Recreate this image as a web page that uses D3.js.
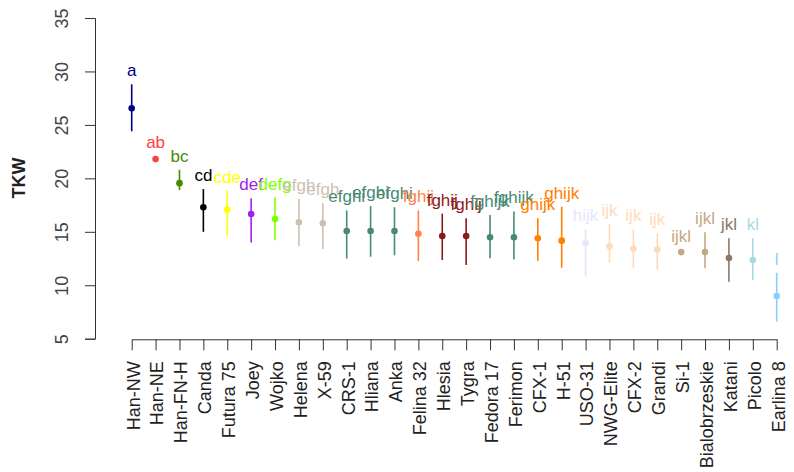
<!DOCTYPE html>
<html>
<head>
<meta charset="utf-8">
<script src="https://cdn.jsdelivr.net/npm/d3@7"></script>
<style>
  body { margin: 0; background: #fff; }
  text { font-family: "Liberation Sans", Arial, sans-serif; }
</style>
</head>
<body>
<svg width="794" height="472"></svg>
<script>
// cultivars, mean TKW with error bar limits and group letters
var cultivars = ["Han-NW", "Han-NE", "Han-FN-H", "Canda", "Futura 75", "Joey", "Wojko", "Helena",
  "X-59", "CRS-1", "Hliana", "Anka", "Felina 32", "Hlesia", "Tygra", "Fedora 17", "Ferimon",
  "CFX-1", "H-51", "USO-31", "NWG-Elite", "CFX-2", "Grandi", "Si-1", "Bialobrzeskie", "Katani",
  "Picolo", "Earlina 8"];
var means = [26.55, 21.8, 19.55, 17.3, 17.07, 16.67, 16.2, 15.9, 15.8, 15.07, 15.07, 15.07, 14.82,
  14.6, 14.6, 14.49, 14.49, 14.4, 14.17, 13.95, 13.64, 13.42, 13.33, 13.1, 13.1, 12.55, 12.36, 9.0];
var upper = [28.8, 22.05, 20.8, 19.0, 18.85, 18.13, 18.2, 18.1, 17.67, 17.0, 17.4, 17.3, 17.0,
  16.7, 16.26, 16.57, 16.9, 16.26, 17.35, 15.26, 15.73, 15.23, 14.86, 13.3, 14.95, 14.4, 14.39, 11.17];
var lower = [24.4, 21.55, 18.9, 15.0, 14.55, 14.0, 14.2, 13.67, 13.36, 12.5, 12.67, 12.8, 12.27,
  12.36, 11.9, 12.52, 12.4, 12.3, 11.64, 10.8, 12.11, 11.58, 11.43, 12.9, 11.58, 10.33, 10.49, 6.6];
var letters = ["a", "ab", "bc", "cd", "cde", "def", "defg", "efgh", "efgh", "efghi", "efghi", "efghi",
  "fghij", "fghij", "fghij", "fghijk", "fghijk", "ghijk", "ghijk", "hijk", "ijk", "ijk", "ijk",
  "ijkl", "ijkl", "jkl", "kl", "l"];
var colors = ["#000080", "#FF4040", "#458B00", "#000000", "#FFFF00", "#A020F0", "#7FFF00", "#CDC0B0",
  "#CDC0B0", "#458B74", "#458B74", "#458B74", "#FF8247", "#8B1A1A", "#8B1A1A", "#458B74", "#458B74",
  "#FF7F00", "#FF7F00", "#E6E6FA", "#FFDAB9", "#FFDAB9", "#FFDAB9", "#C4A886", "#C4A886", "#8B7765",
  "#ADD8E6", "#87CEFA"];
var yTicks = [5, 10, 15, 20, 25, 30, 35];

var svg = d3.select("svg");

var x = d3.scalePoint().domain(cultivars).range([131.7, 776.7]);
var y = d3.scaleLinear().domain([5, 35]).range([338.7, 18]);

// y axis
var yAxis = svg.append("g")
    .attr("transform", "translate(95,0)")
    .call(d3.axisLeft(y).tickValues(yTicks).tickSize(10).tickPadding(0));
yAxis.select(".domain").attr("stroke", "#333");
yAxis.selectAll(".tick line").attr("stroke", "#333");
yAxis.selectAll(".tick text").remove();
yAxis.selectAll(".tick").append("text")
    .attr("transform", "translate(-33,0) rotate(-90)")
    .attr("text-anchor", "middle")
    .attr("dy", "0.35em")
    .attr("fill", "#444")
    .style("font-size", "18px")
    .text(function(d) { return d; });

svg.append("text")
    .attr("transform", "translate(25,178) rotate(-90)")
    .attr("text-anchor", "middle")
    .attr("font-weight", "bold")
    .style("font-size", "18px")
    .attr("fill", "#222")
    .text("TKW");

// x axis
var xAxis = svg.append("g")
    .attr("transform", "translate(0,339.3)")
    .call(d3.axisBottom(x).tickSize(11).tickSizeOuter(0));
xAxis.select(".domain").attr("stroke", "#333");
xAxis.selectAll(".tick line").attr("stroke", "#333");
xAxis.selectAll(".tick text").remove();
xAxis.selectAll(".tick").append("text")
    .attr("transform", "translate(1,22) rotate(-90)")
    .attr("text-anchor", "end")
    .attr("dy", "0.35em")
    .attr("fill", "#222")
    .style("font-size", "18px")
    .text(function(d) { return d; });

// error bars, points and letters
var g = svg.append("g");
cultivars.forEach(function(c, i) {
  var cx = x(c);
  g.append("line")
      .attr("x1", cx).attr("x2", cx)
      .attr("y1", y(upper[i])).attr("y2", y(lower[i]))
      .attr("stroke", colors[i])
      .attr("stroke-width", 1.6);
  g.append("circle")
      .attr("cx", cx).attr("cy", y(means[i]))
      .attr("r", 3.3)
      .attr("fill", colors[i]);
  g.append("text")
      .attr("x", cx).attr("y", y(upper[i]) - 8)
      .attr("text-anchor", "middle")
      .attr("fill", colors[i])
      .style("font-size", "17px")
      .text(letters[i]);
});
</script>
</body>
</html>
